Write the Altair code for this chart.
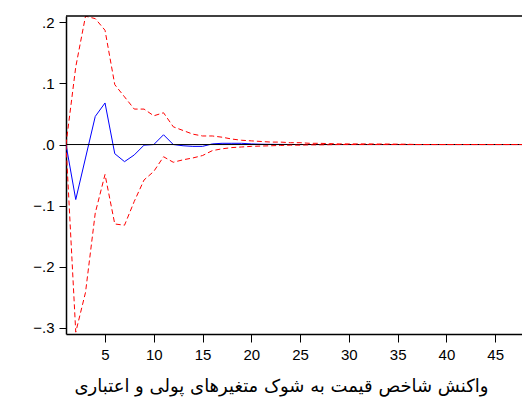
import altair as alt
import pandas as pd

# Impulse response of the price index over 48 periods, with +/- 2 S.E. bands
periods = list(range(1, 49))

response = [
    0.000, -0.090, -0.022, 0.046, 0.068, -0.015, -0.028, -0.017, -0.001, 0.000,
    0.016, 0.000, -0.002, -0.003, -0.003, 0.001, 0.002, 0.002, 0.002, 0.001,
    0.0005, 0.0003, 0.0002, 0.0001, 0.0, 0.0, 0.0, 0.0, 0.0, 0.0,
    0.0, 0.0, 0.0, 0.0, 0.0, 0.0, 0.0, 0.0, 0.0, 0.0,
    0.0, 0.0, 0.0, 0.0, 0.0, 0.0, 0.0, 0.0,
]

upper = [
    0.000, 0.127, 0.210, 0.206, 0.187, 0.098, 0.078, 0.058, 0.058, 0.047,
    0.052, 0.029, 0.023, 0.017, 0.014, 0.014, 0.012, 0.009, 0.007, 0.006,
    0.005, 0.004, 0.004, 0.003, 0.003, 0.002, 0.002, 0.0015, 0.001, 0.001,
    0.001, 0.001, 0.0008, 0.0008, 0.0006, 0.0005, 0.0, 0.0, 0.0, 0.0,
    0.0, 0.0, 0.0, 0.0, 0.0, 0.0, 0.0, 0.0,
]

lower = [
    0.000, -0.307, -0.242, -0.112, -0.049, -0.130, -0.132, -0.093, -0.058, -0.044,
    -0.020, -0.029, -0.025, -0.022, -0.018, -0.010, -0.007, -0.005, -0.004, -0.003,
    -0.0025, -0.002, -0.0015, -0.001, -0.001, -0.0005, -0.0005, -0.0003, 0.0, 0.0,
    0.0, 0.0, 0.0, 0.0, 0.0, 0.0, 0.0, 0.0, 0.0, 0.0,
    0.0, 0.0, 0.0, 0.0, 0.0, 0.0, 0.0, 0.0,
]

x_ticks = [5, 10, 15, 20, 25, 30, 35, 40, 45]
y_ticks = [-0.3, -0.2, -0.1, 0.0, 0.1, 0.2]
x_title = "واکنش شاخص قیمت به شوک متغیرهای پولی و اعتباری"

df = pd.DataFrame({"period": periods, "response": response, "upper": upper, "lower": lower})
zero_df = pd.DataFrame({"period": [1.0], "zero": [0.0]})

W, H = 456, 318
x_scale = alt.Scale(domain=[1, 47.75], nice=False, zero=False)
y_scale = alt.Scale(domain=[-0.31, 0.2103], nice=False, zero=False)

x_axis = alt.Axis(
    values=x_ticks, grid=False, tickSize=8, tickColor="black", tickWidth=1,
    domainColor="black", domainWidth=1.5,
    labelFont="Liberation Sans", labelFontSize=15, labelColor="black", labelPadding=5,
    title=x_title, titleFont="DejaVu Sans", titleFontSize=18, titleFontWeight="normal",
    titleColor="black", titleX=215, titleY=57, titleBaseline="alphabetic",
)
y_axis = alt.Axis(
    values=y_ticks, grid=False, tickSize=7, tickColor="black", tickWidth=1,
    domainColor="black", domainWidth=1.5,
    labelFont="Liberation Sans", labelFontSize=15, labelColor="black", labelPadding=5,
    labelExpr="replace(format(datum.value, '.1f'), '0.', '.')",
    title=None,
)


def xy(field):
    return dict(
        x=alt.X("period:Q", scale=x_scale, axis=x_axis),
        y=alt.Y(f"{field}:Q", scale=y_scale, axis=y_axis),
    )


base = alt.Chart(df)

zero_line = alt.Chart(zero_df).mark_rule(color="black", strokeWidth=1).encode(
    y=alt.Y("zero:Q", scale=y_scale, axis=y_axis)
)

resp_line = base.mark_line(color="#0000ff", strokeWidth=1, clip=True).encode(**xy("response"))

upper_line = base.mark_line(
    color="#ff0000", strokeWidth=1, strokeDash=[5, 3], clip=True
).encode(**xy("upper"))

lower_line = base.mark_line(
    color="#ff0000", strokeWidth=1, strokeDash=[5, 3], clip=True
).encode(**xy("lower"))

top_frame = alt.Chart(zero_df).mark_rule(color="black", strokeWidth=1.5).encode(
    x=alt.value(0), x2=alt.value(W), y=alt.value(0)
)

chart = alt.layer(resp_line, zero_line, upper_line, lower_line, top_frame).properties(
    width=W,
    height=H,
    autosize=alt.AutoSizeParams(type="none"),
    padding={"left": 66, "top": 16, "right": 0, "bottom": 65},
    background="white",
).configure_view(stroke=None)

chart.save("out.html", embed_options={"renderer": "svg", "actions": False})
